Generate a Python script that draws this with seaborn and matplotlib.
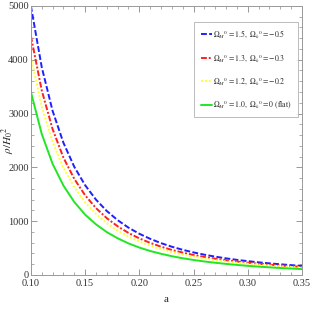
import matplotlib
matplotlib.use('Agg')
import matplotlib.pyplot as plt
import seaborn as sns
import pandas as pd
from matplotlib.ticker import MultipleLocator

# ── data ───────────────────────────────────────────────────────────────────
a_vals = [0.10, 0.11, 0.12, 0.13, 0.14, 0.15, 0.16, 0.17, 0.18, 0.19,
          0.20, 0.21, 0.22, 0.23, 0.24, 0.25, 0.26, 0.27, 0.28, 0.29,
          0.30, 0.31, 0.32, 0.33, 0.34, 0.35]

rho_15 = [5000, 3862, 3050, 2456, 2009, 1667, 1399, 1187, 1017, 878,
          764, 670, 590, 523, 466, 417, 375, 339, 307, 279,
          255, 233, 214, 197, 181, 167]
rho_13 = [4440, 3430, 2710, 2180, 1785, 1480, 1242, 1054, 903, 780,
          678, 595, 524, 464, 414, 370, 333, 301, 273, 248,
          226, 207, 190, 175, 161, 148]
rho_12 = [4050, 3128, 2470, 1990, 1627, 1350, 1133, 961, 824, 711,
          619, 543, 478, 424, 377, 338, 304, 275, 249, 226,
          207, 189, 173, 160, 147, 135]
rho_10 = [3400, 2620, 2065, 1660, 1355, 1120, 940, 795, 680, 585,
          508, 444, 392, 347, 309, 277, 249, 225, 204, 185,
          168, 153, 140, 128, 117, 107]

labels = [r'$\Omega_M{}^0 = 1.5,\ \Omega_k{}^0 = -0.5$',
          r'$\Omega_M{}^0 = 1.3,\ \Omega_k{}^0 = -0.3$',
          r'$\Omega_M{}^0 = 1.2,\ \Omega_k{}^0 = -0.2$',
          r'$\Omega_M{}^0 = 1.0,\ \Omega_k{}^0 = 0\ (\mathrm{flat})$']
colors = ['#1f1fff', '#ff2020', '#ffff30', '#22e622']
dashes = [(0, (3, 1.2)), (0, (3, 1, 1, 1)), (0, (1, 1)), '-']
series = [rho_15, rho_13, rho_12, rho_10]

# ── plot ─────────────────────────────────────────────────────────────────
sns.set_style('ticks')
plt.rcParams['font.family'] = ['Liberation Serif', 'DejaVu Serif']
plt.rcParams['mathtext.fontset'] = 'stix'

fig = plt.figure(figsize=(3.12, 3.12), dpi=100)
ax = fig.add_axes([0.099, 0.119, 0.869, 0.862])

for vals, lab, col, ls in zip(series, labels, colors, dashes):
    df = pd.DataFrame({'a': a_vals, 'rho': vals})
    sns.lineplot(data=df, x='a', y='rho', ax=ax, color=col,
                 linestyle=ls, linewidth=1.4, label=lab)

ax.set_xlim(0.10, 0.35)
ax.set_ylim(0, 5000)
ax.xaxis.set_major_locator(MultipleLocator(0.05))
ax.xaxis.set_minor_locator(MultipleLocator(0.01))
ax.yaxis.set_major_locator(MultipleLocator(1000))
ax.yaxis.set_minor_locator(MultipleLocator(200))
ax.set_xticklabels([f'{v:.2f}' for v in ax.get_xticks()])
ax.tick_params(which='both', direction='in', top=True, right=True,
               colors='#888888', labelcolor='#333333', labelsize=7.5, pad=1.5)
ax.tick_params(axis='x', which='major', pad=3)
ax.tick_params(which='major', length=4, width=0.6)
ax.tick_params(which='minor', length=2, width=0.5)
for sp in ax.spines.values():
    sp.set_color('#999999')
    sp.set_linewidth(0.7)

ax.set_xlabel('a', fontsize=8, labelpad=5)
ax.set_ylabel(r'$\rho/H_0{}^2$', fontsize=8)
ax.yaxis.set_label_coords(-0.05, 0.5)

leg = ax.legend(loc='upper right', bbox_to_anchor=(0.985, 0.94),
                fontsize=5.6, frameon=True, fancybox=False,
                edgecolor='#aaaaaa', handlelength=1.4, handletextpad=0.2,
                labelspacing=1.5, borderpad=0.8, borderaxespad=0)
leg.get_frame().set_linewidth(0.7)

plt.savefig('out.png', dpi=100)
